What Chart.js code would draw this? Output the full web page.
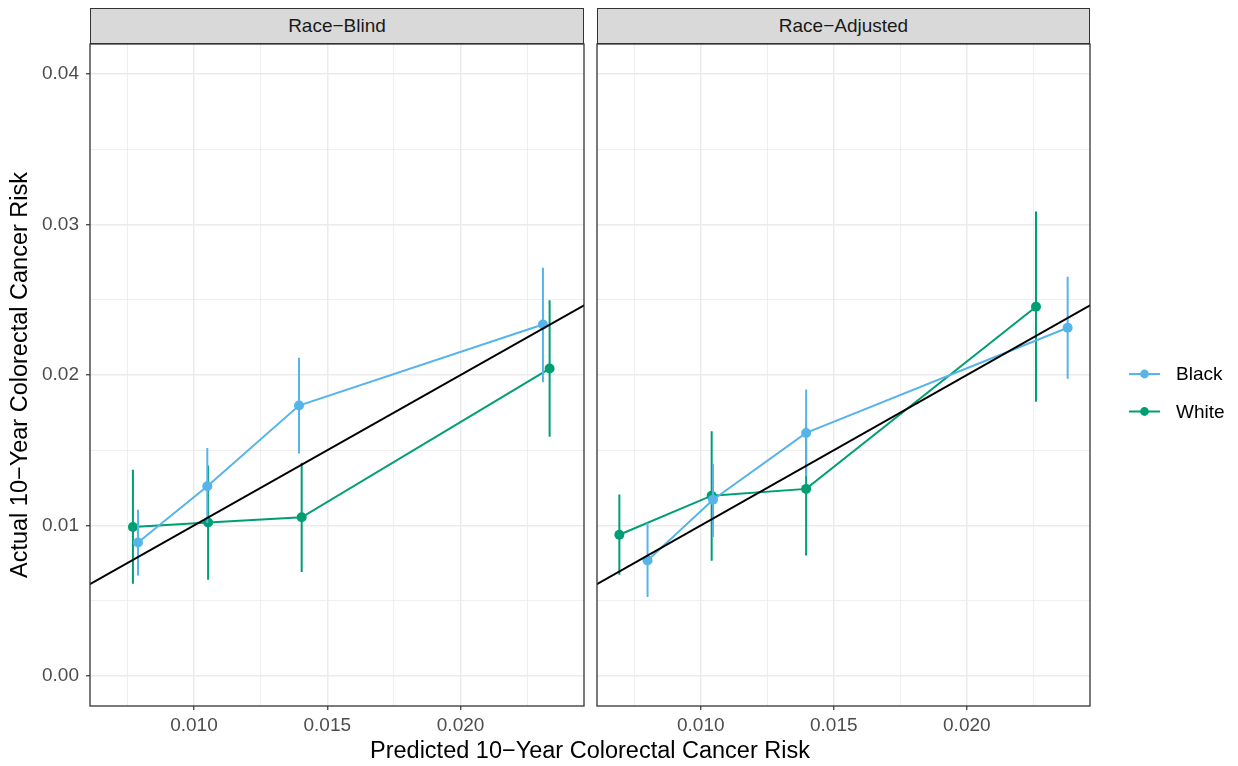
<!DOCTYPE html>
<html>
<head>
<meta charset="utf-8">
<script src="https://cdn.jsdelivr.net/npm/chart.js@4.4.1/dist/chart.umd.min.js"></script>
<style>
  html, body { margin: 0; padding: 0; background: #fff; }
  body { width: 1238px; height: 766px; position: relative; overflow: hidden;
         font-family: "Liberation Sans", Arial, sans-serif; }
  canvas { position: absolute; top: 0; }
  .strip { position: absolute; top: 8px; height: 36px; box-sizing: border-box;
           border: 1.2px solid #333; background: #D9D9D9; color: #1A1A1A;
           font-size: 19px; line-height: 34px; text-align: center; }
  #xtitle { position: absolute; left: 90px; width: 1000px; top: 739px;
            font-size: 23.5px; line-height: 1; text-align: center; color: #000; }
</style>
</head>
<body>
<canvas id="panel-blind" width="589" height="766" style="left:0px"></canvas>
<canvas id="panel-adjusted" width="648" height="766" style="left:590px"></canvas>
<div class="strip" style="left:90px;width:494px">Race−Blind</div>
<div class="strip" style="left:597px;width:493px">Race−Adjusted</div>
<div id="xtitle">Predicted 10−Year Colorectal Cancer Risk</div>
<script>
(function () {
    "use strict";

    // groups + colours
    const seriesNames = ['Black', 'White'];
    const seriesColors = ['#56B4E9', '#009E73'];

    // Race-Blind panel
    const blindBlackX  = [0.00790, 0.01050, 0.01394, 0.02309];
    const blindBlackY  = [0.00887, 0.01260, 0.01797, 0.02336];
    const blindBlackLo = [0.00668, 0.01016, 0.01478, 0.01952];
    const blindBlackHi = [0.01105, 0.01515, 0.02115, 0.02713];
    const blindWhiteX  = [0.00771, 0.01053, 0.01404, 0.02334];
    const blindWhiteY  = [0.00990, 0.01020, 0.01054, 0.02043];
    const blindWhiteLo = [0.00612, 0.00639, 0.00690, 0.01589];
    const blindWhiteHi = [0.01371, 0.01398, 0.01416, 0.02496];

    // Race-Adjusted panel
    const adjBlackX  = [0.00800, 0.01046, 0.01396, 0.02379];
    const adjBlackY  = [0.00767, 0.01171, 0.01615, 0.02314];
    const adjBlackLo = [0.00524, 0.00923, 0.01327, 0.01975];
    const adjBlackHi = [0.01016, 0.01409, 0.01903, 0.02653];
    const adjWhiteX  = [0.00694, 0.01041, 0.01396, 0.02260];
    const adjWhiteY  = [0.00938, 0.01198, 0.01243, 0.02454];
    const adjWhiteLo = [0.00672, 0.00765, 0.00801, 0.01822];
    const adjWhiteHi = [0.01205, 0.01626, 0.01660, 0.03086];

    // y = x reference line
    const refLine = [0.006, 0.025];

    // axes
    const xMin = 0.00610, xMax = 0.02463;
    const yMin = -0.0020, yMax = 0.0420;
    const xMajorTicks = [0.010, 0.015, 0.020];
    const xTickLabels = ['0.010', '0.015', '0.020'];
    const xMinorTicks = [0.0075, 0.0125, 0.0175, 0.0225];
    const yMajorTicks = [0.00, 0.01, 0.02, 0.03, 0.04];
    const yTickLabels = ['0.00', '0.01', '0.02', '0.03', '0.04'];
    const yMinorTicks = [0.005, 0.015, 0.025, 0.035];

    const FONT = '"Liberation Sans", Arial, sans-serif';
    Chart.defaults.font.family = FONT;

    function isMajor(c, majors) {
        if (!c || !c.tick) return true;
        return majors.some(m => Math.abs(m - c.tick.value) < 1e-9);
    }

    function labelFor(v, majors, labels) {
        const i = majors.findIndex(m => Math.abs(m - v) < 1e-9);
        return i >= 0 ? labels[i] : '';
    }

    const panelBox = {
        id: 'panelBox',
        afterDraw(chart) {
            const a = chart.chartArea, ctx = chart.ctx;
            ctx.save();
            ctx.strokeStyle = '#333333';
            ctx.lineWidth = 1.3;
            ctx.strokeRect(a.left, a.top, a.right - a.left, a.bottom - a.top);
            ctx.restore();
        }
    };

    const sideLegend = {
        id: 'sideLegend',
        afterDraw(chart) {
            const ctx = chart.ctx;
            const x0 = 539, x1 = 570, ys = [374, 411.5];
            ctx.save();
            seriesNames.forEach((name, i) => {
                ctx.strokeStyle = seriesColors[i];
                ctx.lineWidth = 2;
                ctx.beginPath();
                ctx.moveTo(x0, ys[i]);
                ctx.lineTo(x1, ys[i]);
                ctx.stroke();
                ctx.fillStyle = seriesColors[i];
                ctx.beginPath();
                ctx.arc((x0 + x1) / 2, ys[i], 4.4, 0, Math.PI * 2);
                ctx.fill();
                ctx.fillStyle = '#000';
                ctx.font = '19px ' + FONT;
                ctx.textBaseline = 'middle';
                ctx.fillText(name, 586, ys[i] + 1);
            });
            ctx.restore();
        }
    };

    function points(xs, ys) {
        return xs.map((x, i) => ({x: x, y: ys[i]}));
    }

    // vertical segments lo..hi, broken by null gaps
    function whiskers(xs, lo, hi) {
        const out = [];
        xs.forEach((x, i) => {
            out.push({x: x, y: lo[i]}, {x: x, y: hi[i]}, {x: x, y: null});
        });
        return out;
    }

    function makePanel(id, s, first) {
        const datasets = [{
            data: points(refLine, refLine),
            borderColor: '#000',
            borderWidth: 2,
            pointRadius: 0,
            clip: 0,
            order: 0
        }, {
            label: seriesNames[0],
            data: points(s.bx, s.by),
            borderColor: seriesColors[0],
            backgroundColor: seriesColors[0],
            borderWidth: 2,
            pointRadius: 5,
            pointBorderWidth: 0,
            order: 1
        }, {
            data: whiskers(s.bx, s.blo, s.bhi),
            borderColor: seriesColors[0],
            borderWidth: 2,
            pointRadius: 0,
            spanGaps: false,
            order: 2
        }, {
            label: seriesNames[1],
            data: points(s.wx, s.wy),
            borderColor: seriesColors[1],
            backgroundColor: seriesColors[1],
            borderWidth: 2,
            pointRadius: 5,
            pointBorderWidth: 0,
            order: 3
        }, {
            data: whiskers(s.wx, s.wlo, s.whi),
            borderColor: seriesColors[1],
            borderWidth: 2,
            pointRadius: 0,
            spanGaps: false,
            order: 4
        }];

        const config = {
            type: 'line',
            data: {datasets: datasets},
            options: {
                responsive: false,
                animation: false,
                layout: {padding: first ? {top: 44, right: 2, bottom: 0, left: 0}
                                        : {top: 44, right: 148, bottom: 0, left: 7}},
                plugins: {legend: {display: false}, tooltip: {enabled: false}},
                scales: {
                    x: {
                        type: 'linear', min: xMin, max: xMax, offset: false,
                        afterBuildTicks: sc => {
                            sc.ticks = xMajorTicks.concat(xMinorTicks).sort((a, b) => a - b)
                                .map(v => ({value: v}));
                        },
                        afterFit: sc => { sc.height = 60; },
                        ticks: {
                            autoSkip: false, maxRotation: 0, padding: 4,
                            color: '#4D4D4D', font: {size: 19},
                            callback: v => labelFor(v, xMajorTicks, xTickLabels)
                        },
                        grid: {
                            color: '#EBEBEB',
                            lineWidth: c => isMajor(c, xMajorTicks) ? 1.5 : 0.8,
                            tickColor: c => isMajor(c, xMajorTicks) ? '#333333' : 'rgba(0,0,0,0)',
                            tickWidth: 1.2,
                            tickLength: 4
                        },
                        border: {display: false}
                    },
                    y: {
                        type: 'linear', min: yMin, max: yMax,
                        afterBuildTicks: sc => {
                            sc.ticks = yMajorTicks.concat(yMinorTicks).sort((a, b) => a - b)
                                .map(v => ({value: v}));
                        },
                        afterFit: sc => { sc.width = first ? 90 : 0; },
                        ticks: {
                            display: first, autoSkip: false, padding: 7,
                            color: '#4D4D4D', font: {size: 19},
                            callback: v => labelFor(v, yMajorTicks, yTickLabels)
                        },
                        grid: {
                            color: '#EBEBEB',
                            lineWidth: c => isMajor(c, yMajorTicks) ? 1.5 : 0.8,
                            tickColor: c => isMajor(c, yMajorTicks) ? '#333333' : 'rgba(0,0,0,0)',
                            tickWidth: 1.2,
                            tickLength: 4,
                            drawTicks: first
                        },
                        border: {display: false},
                        title: {
                            display: first,
                            text: 'Actual 10−Year Colorectal Cancer Risk',
                            color: '#000',
                            font: {size: 23.5},
                            padding: {top: 6, bottom: 0}
                        }
                    }
                }
            },
            plugins: first ? [panelBox] : [panelBox, sideLegend]
        };
        return new Chart(document.getElementById(id), config);
    }

    makePanel('panel-blind', {
        bx: blindBlackX, by: blindBlackY, blo: blindBlackLo, bhi: blindBlackHi,
        wx: blindWhiteX, wy: blindWhiteY, wlo: blindWhiteLo, whi: blindWhiteHi
    }, true);

    makePanel('panel-adjusted', {
        bx: adjBlackX, by: adjBlackY, blo: adjBlackLo, bhi: adjBlackHi,
        wx: adjWhiteX, wy: adjWhiteY, wlo: adjWhiteLo, whi: adjWhiteHi
    }, false);
})();
</script>
</body>
</html>
